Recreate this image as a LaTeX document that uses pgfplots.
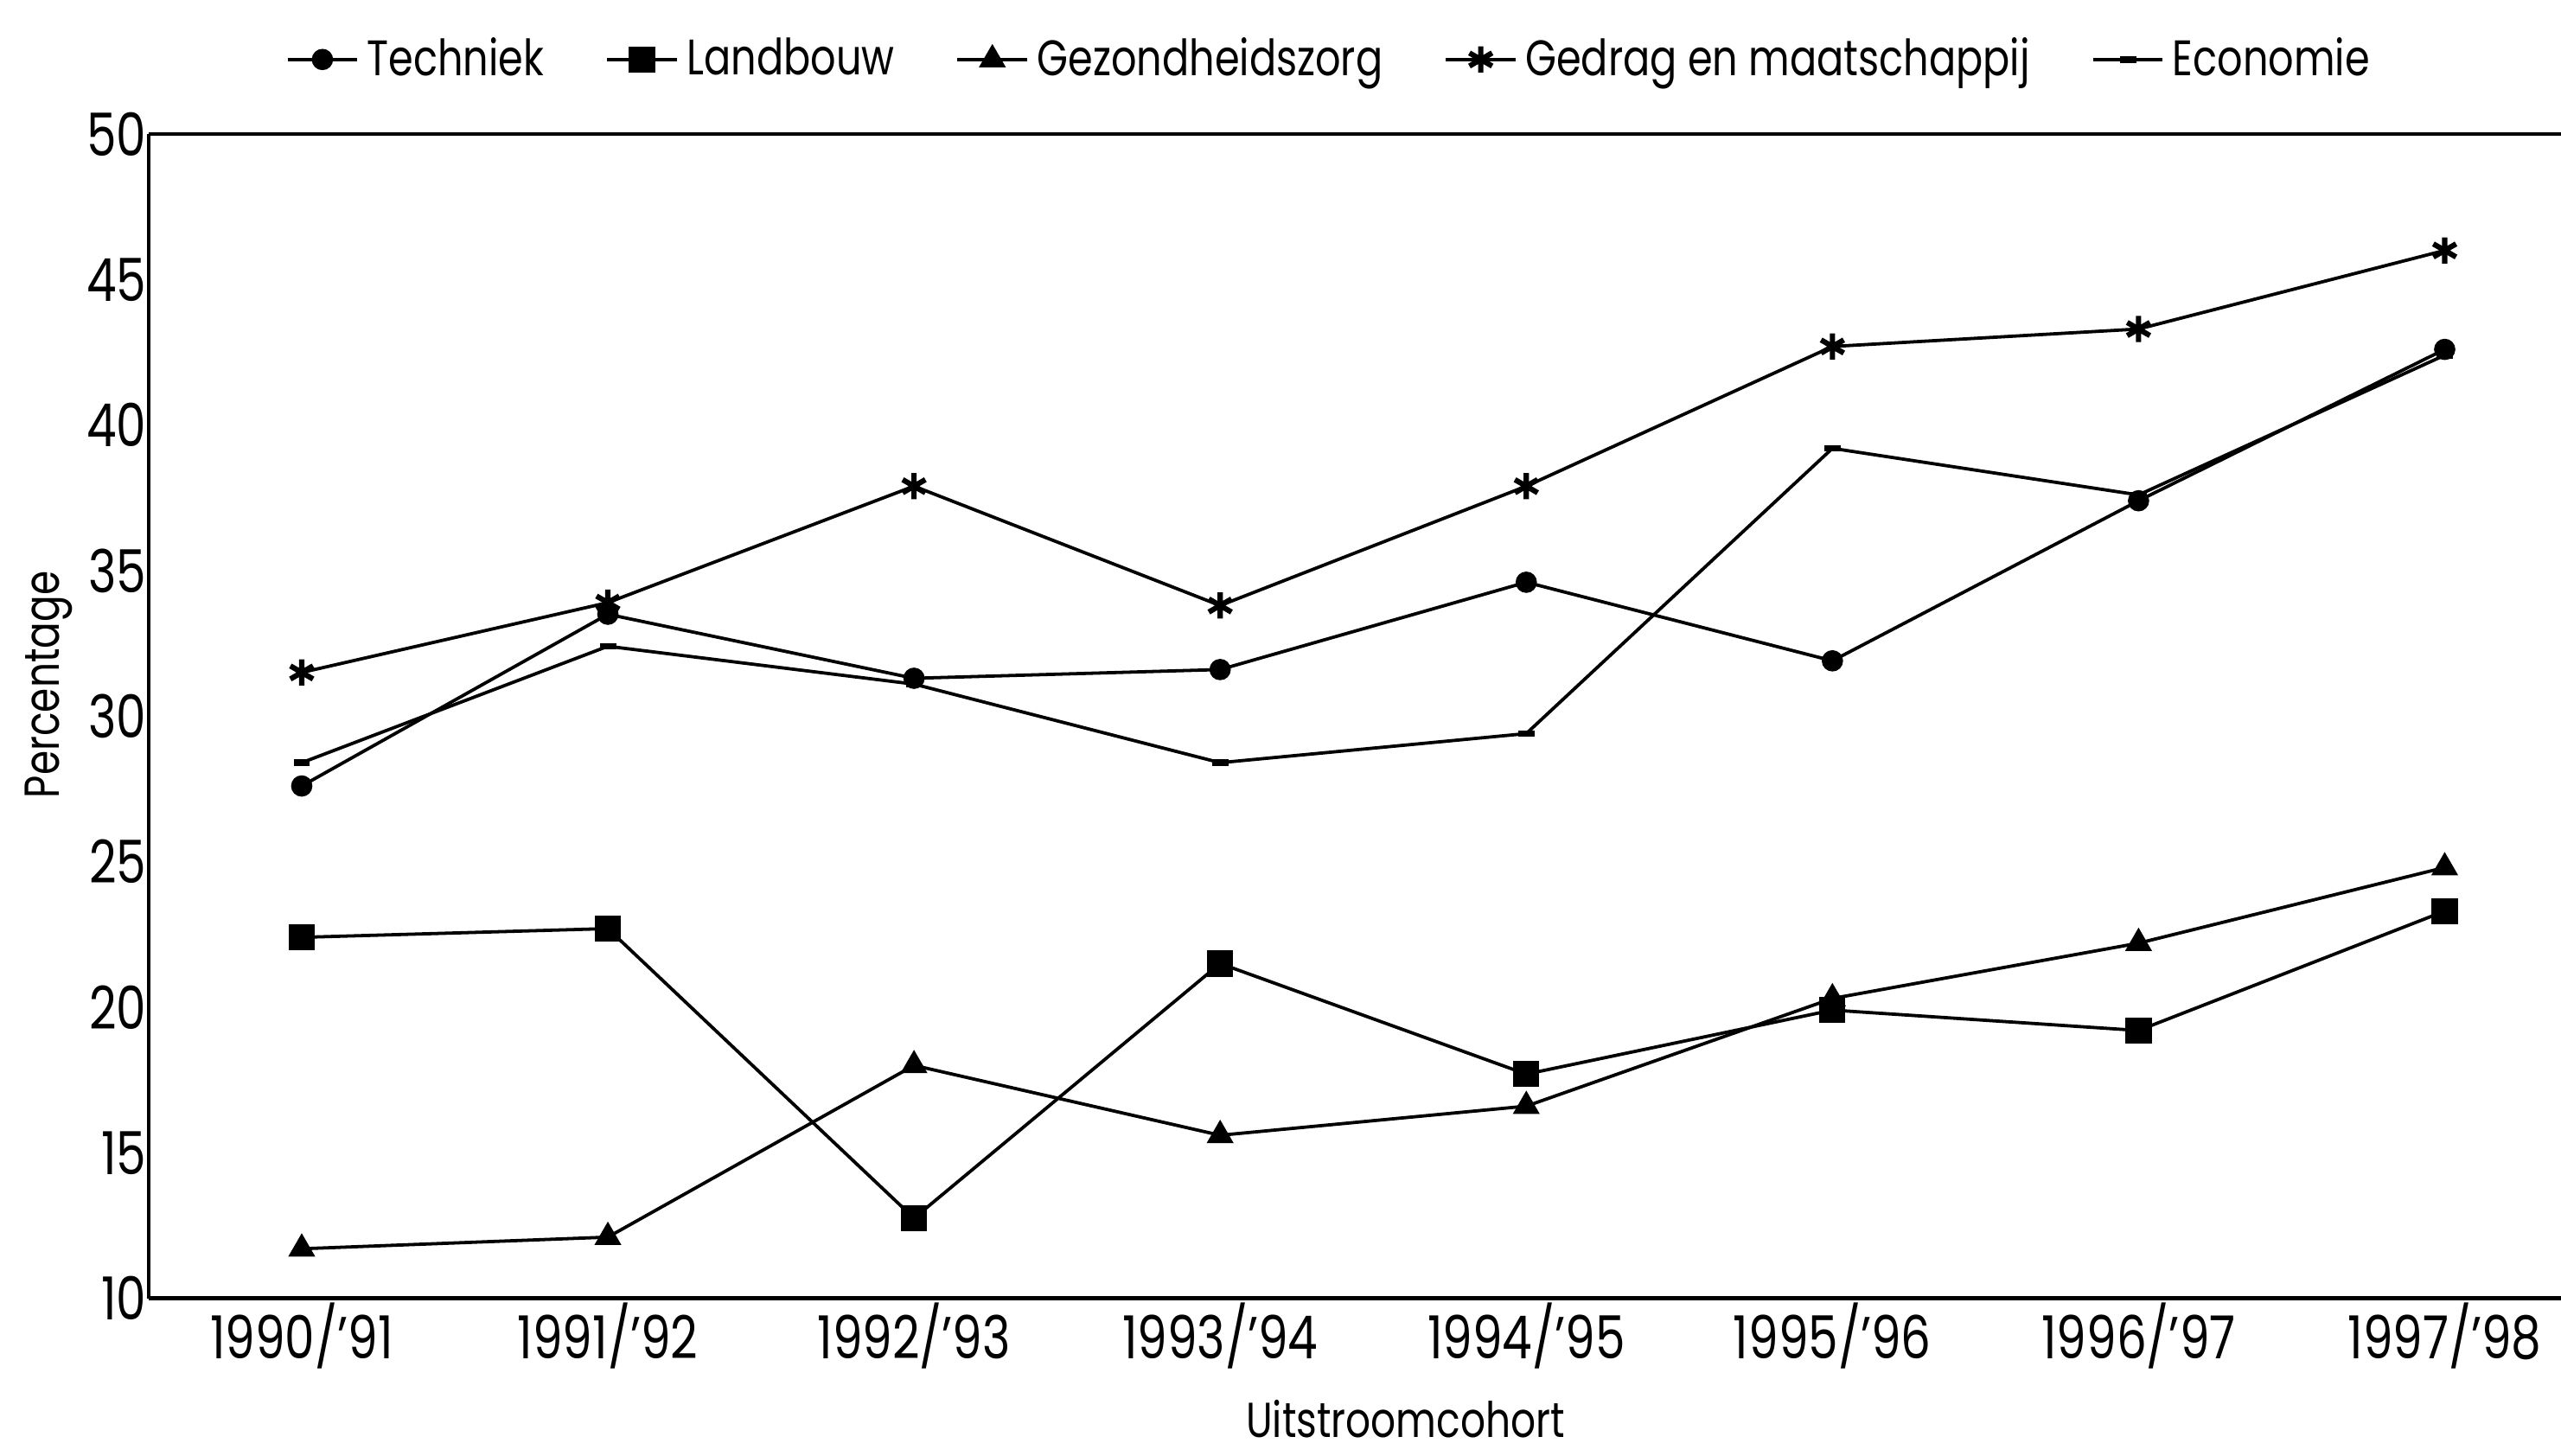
\documentclass[border=0pt]{standalone}
\usepackage{fontspec}
\setmainfont{Poppins}[FakeStretch=0.8]
\usepackage{pgfplots}
\pgfplotsset{compat=1.18}
\begin{document}
\begin{tikzpicture}
\begin{axis}[
  name=ax,
  scale only axis,
  width=20.72cm, height=10.0cm,
  xmin=-0.5, xmax=7.38,
  ymin=10, ymax=50,
  ytick={10,15,...,50},
  xtick={0,...,7},
  xticklabels={1990/'91,1991/'92,1992/'93,1993/'94,1994/'95,1995/'96,1996/'97,1997/'98},
  axis x line=box,
  axis y line=left,
  axis line style={line width=1pt, -},
  major tick length=0pt,
  tick style={draw=none},
  /pgf/number format/assume math mode=true,
  ticklabel style={font=\fontsize{14.5}{16}\selectfont},
  yticklabel style={xshift=3pt},
  xticklabel style={yshift=2.5pt},
  every axis y label/.style={at={(axis description cs:-0.0415,0.527)}, rotate=90, anchor=center},
  every axis x label/.style={at={(axis description cs:0.521,-0.104)}, anchor=center},
  ylabel={Percentage},
  xlabel={Uitstroomcohort},
  label style={font=\fontsize{12}{14}\selectfont},
  legend style={draw=none, fill=none, at={(axis description cs:0.4905,1.064)}, anchor=center,
    legend columns=-1, font=\fontsize{12.2}{15}\selectfont,
    /tikz/every even column/.append style={column sep=13pt}},
  legend image code/.code={\draw[#1] (0cm,0cm) -- (0.6cm,0cm); \draw[#1, only marks] plot coordinates {(0.3cm,0cm)};},
  every axis plot/.append style={black, line width=0.8pt, mark options={solid, fill=black}},
]
\addplot[mark=*, mark size=2.2pt] coordinates {(0,27.6) (1,33.5) (2,31.3) (3,31.6) (4,34.6) (5,31.9) (6,37.4) (7,42.6)};
\addlegendentry{Techniek}
\addplot[mark=square*, mark size=2.8pt] coordinates {(0,22.4) (1,22.7) (2,12.75) (3,21.5) (4,17.7) (5,19.9) (6,19.2) (7,23.3)};
\addlegendentry{Landbouw}
\addplot[mark=triangle*, mark size=3pt] coordinates {(0,11.7) (1,12.1) (2,18.0) (3,15.6) (4,16.6) (5,20.3) (6,22.2) (7,24.8)};
\addlegendentry{Gezondheidszorg}
\addplot[mark=asterisk, mark size=3.2pt, mark options={line width=1.3pt}] coordinates {(0,31.5) (1,33.9) (2,37.9) (3,33.8) (4,37.9) (5,42.7) (6,43.3) (7,46.0)};
\addlegendentry{Gedrag en maatschappij}
\addplot[mark=-, mark size=2pt, mark options={line width=1.6pt}] coordinates {(0,28.4) (1,32.4) (2,31.1) (3,28.4) (4,29.4) (5,39.2) (6,37.6) (7,42.4)};
\addlegendentry{Economie}
\end{axis}
\pgfresetboundingbox
\path ([xshift=-1.277cm,yshift=-1.352cm]ax.south west) rectangle ([yshift=1.151cm]ax.north east);
\end{tikzpicture}
\end{document}
